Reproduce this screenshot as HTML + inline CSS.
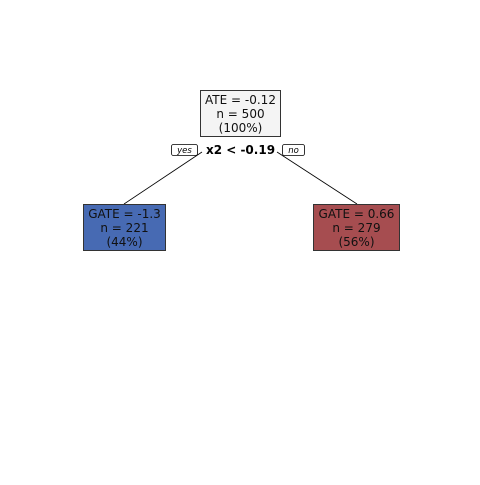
<!DOCTYPE html>
<html><head><style>body{margin:0;background:#fff}</style></head><body>
<svg width="480" height="480" viewBox="0 0 480 480" xmlns="http://www.w3.org/2000/svg" font-family="DejaVu Sans, sans-serif">
<rect width="480" height="480" fill="#fff"/>
<line x1="202" y1="152" x2="124" y2="204" stroke="#000" stroke-width="0.8"/>
<line x1="277" y1="152" x2="357" y2="204" stroke="#000" stroke-width="0.8"/>
<rect x="200.5" y="90.5" width="80" height="46" fill="#f4f4f4" stroke="#333" stroke-width="1"/>
<g font-size="12" text-anchor="middle" fill="#111">
<text x="240.5" y="104">ATE = -0.12</text>
<text x="240.5" y="118">n = 500</text>
<text x="240.5" y="132">(100%)</text>
</g>
<rect x="171.5" y="144.5" width="26" height="11" rx="2" fill="#fff" stroke="#000" stroke-width="0.8"/>
<text x="184.5" y="153" font-size="8.5" font-style="italic" text-anchor="middle">yes</text>
<rect x="282.5" y="144.5" width="22" height="11" rx="2" fill="#fff" stroke="#000" stroke-width="0.8"/>
<text x="293.5" y="153" font-size="8.5" font-style="italic" text-anchor="middle">no</text>
<text x="240.5" y="154" font-size="12" font-weight="bold" text-anchor="middle">x2 &lt; -0.19</text>
<rect x="83.5" y="204.5" width="82" height="46" fill="#476ab3" stroke="#333" stroke-width="1"/>
<g font-size="12" text-anchor="middle" fill="#111">
<text x="124.5" y="218">GATE = -1.3</text>
<text x="124.5" y="232">n = 221</text>
<text x="124.5" y="246">(44%)</text>
</g>
<rect x="313.5" y="204.5" width="86" height="46" fill="#a64d50" stroke="#333" stroke-width="1"/>
<g font-size="12" text-anchor="middle" fill="#111">
<text x="356.5" y="218">GATE = 0.66</text>
<text x="356.5" y="232">n = 279</text>
<text x="356.5" y="246">(56%)</text>
</g>
</svg>
</body></html>
